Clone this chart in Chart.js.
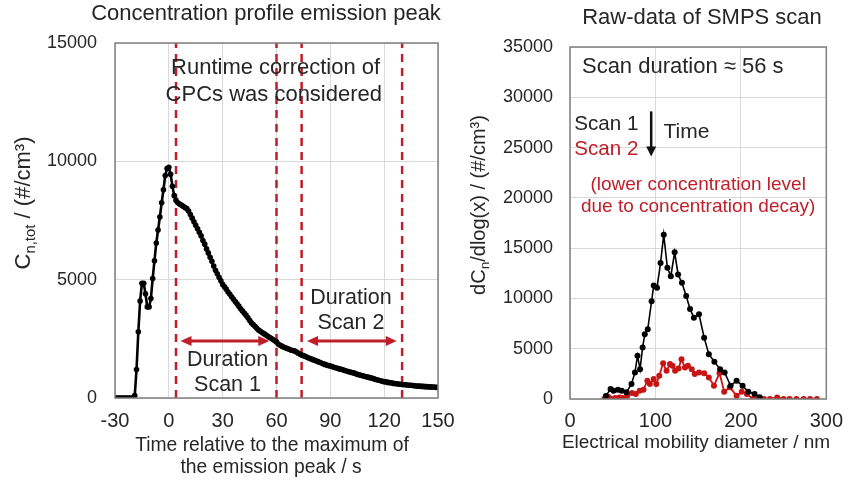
<!DOCTYPE html>
<html>
<head>
<meta charset="utf-8">
<script src="https://cdn.jsdelivr.net/npm/chart.js@4.4.1/dist/chart.umd.min.js"></script>
<style>
  body { margin: 0; background: #fff; width: 853px; height: 480px; overflow: hidden; position: relative; }
  canvas { position: absolute; top: 0; }
  #left { left: 0; }
  #right { left: 470px; }
</style>
</head>
<body>
<canvas id="left" width="470" height="480"></canvas>
<canvas id="right" width="383" height="480"></canvas>
<script>
// left chart: concentration profile, one value per second from -30 s
var profileStart = -30;
var profileStep = 1;
var profileConc = [
  0, 0, 0, 0, 0, 0, 0, 0, 0, 0, 0,
  100, 1200, 2800, 4100, 4850, 4850, 4400, 3850, 3850, 4200,
  5050, 5800, 6550, 7100, 7650, 8250, 8800, 9400, 9700, 9750,
  9450, 8950, 8550, 8350, 8250, 8200, 8150, 8100, 8050, 8000,
  7900, 7750, 7600, 7450, 7300, 7150, 7000, 6850, 6650, 6500,
  6300, 6130, 5950, 5780, 5580, 5400, 5250, 5100, 4950, 4800,
  4700, 4600, 4480, 4380, 4280, 4180, 4080, 3980, 3880, 3770,
  3680, 3590, 3500, 3400, 3280, 3180, 3100, 3030, 2950, 2870,
  2820, 2770, 2720, 2670, 2620, 2570, 2520, 2470, 2420, 2370,
  2280, 2230, 2190, 2150, 2120, 2090, 2060, 2030, 2010, 1990,
  1950, 1900, 1860, 1820, 1790, 1760, 1720, 1690, 1660, 1630,
  1600, 1570, 1540, 1510, 1480, 1450, 1420, 1390, 1370, 1350,
  1330, 1300, 1280, 1260, 1230, 1210, 1190, 1160, 1140, 1120,
  1100, 1080, 1060, 1030, 1000, 980, 960, 940, 920, 900,
  880, 860, 840, 820, 790, 770, 750, 730, 710, 690,
  680, 660, 650, 640, 620, 610, 600, 590, 580, 570,
  560, 560, 550, 540, 540, 530, 520, 510, 500, 500,
  490, 490, 480, 480, 470, 470, 460, 460, 450, 450
];
var timeTicks = [-30, 0, 30, 60, 90, 120, 150];
var concTicks = [0, 5000, 10000, 15000];
var scanMarks = [4, 60, 74, 130];        // start/end of scan 1 and scan 2
var scanArrows = [[6.5, 56], [77, 127]];
var arrowLevel = 2410;

// right chart: SMPS raw data
var diamScan1 = [42, 47.5, 51, 56, 60.5, 66, 72, 76, 79, 82, 85, 87.5, 91, 95.5, 98, 101.8, 106, 109.7,
  114, 118, 122.5, 126.5, 131, 136, 140.5, 145, 151, 157, 162.5, 169, 175.7, 181, 188, 195, 202, 208.7, 216, 222];
var dnScan1 = [300, 990, 820, 920, 820, 660, 1490, 2640, 4290, 2970, 5120, 6440, 6930, 9730, 11290, 11060, 13530, 16340,
  13040, 12210, 14590, 12380, 11550, 10230, 8950, 8090, 8420, 6100, 4460, 3700, 2970, 2640, 1320, 1810, 1320, 720, 500, 170];
var diamScan2 = [40, 41.5, 45, 49, 53, 58, 62, 67, 72.5, 77, 81.5, 86, 90.5, 93.5, 98, 101, 104.5, 109, 113, 117, 120,
  123, 127, 130.5, 134.5, 138, 142.5, 146, 151, 157, 162.5, 168.5, 175, 180.5, 187, 195, 201, 207, 214, 220, 227,
  234, 242.5, 250, 257, 265, 273.5, 281, 289];
var dnScan2 = [0, 0, 200, 0, 100, 160, 100, 330, 590, 500, 830, 920, 1820, 1490, 1980, 1490, 2310, 3560, 2800, 3470, 3300,
  2800, 3040, 3960, 3130, 3300, 2970, 2480, 2640, 2570, 2150, 1320, 2570, 720, 1160, 330, 720, 500, 0, 0, 0,
  0, 160, 0, 0, 0, 0, 0, 0];
var diamTicks = [0, 100, 200, 300];
var dnTicks = [0, 5000, 10000, 15000, 20000, 25000, 30000, 35000];

var FONT = '"Liberation Sans", Arial, sans-serif';
var RED = 'rgb(192, 30, 40)';
var TXT = '#262626';
var GRID = '#d9d9d9';
Chart.defaults.font.family = FONT;
Chart.defaults.color = TXT;

var profilePoints = profileConc.map(function(v, i) { return { x: profileStart + i * profileStep, y: v }; });
var scan1Points = diamScan1.map(function(d, i) { return { x: d, y: dnScan1[i] }; });
var scan2Points = diamScan2.map(function(d, i) { return { x: d, y: dnScan2[i] }; });

function plain(v) { return String(v); }

function text(ctx, str, x, y, size, color, align) {
  ctx.font = size + 'px ' + FONT;
  ctx.fillStyle = color || TXT;
  ctx.textAlign = align || 'center';
  ctx.textBaseline = 'middle';
  ctx.fillText(str, x, y);
}

// rotated axis title with subscripts
function richText(ctx, parts, cx, cy, size) {
  var w = 0;
  parts.forEach(function(p) {
    ctx.font = (p.sub ? size * 0.68 : size) + 'px ' + FONT;
    p.w = ctx.measureText(p.t).width;
    w += p.w;
  });
  ctx.save();
  ctx.translate(cx, cy);
  ctx.rotate(-Math.PI / 2);
  ctx.textAlign = 'left';
  ctx.textBaseline = 'middle';
  ctx.fillStyle = TXT;
  var x = -w / 2;
  parts.forEach(function(p) {
    ctx.font = (p.sub ? size * 0.68 : size) + 'px ' + FONT;
    ctx.fillText(p.t, x, p.sub ? size * 0.32 : 0);
    x += p.w;
  });
  ctx.restore();
}

function arrowHead(ctx, x, y, dx, dy, len, half) {
  ctx.beginPath();
  ctx.moveTo(x, y);
  ctx.lineTo(x - dx * len - dy * half, y - dy * len + dx * half);
  ctx.lineTo(x - dx * len + dy * half, y - dy * len - dx * half);
  ctx.closePath();
  ctx.fill();
}

function frame(ctx, a) {
  ctx.save();
  ctx.strokeStyle = '#7f7f7f';
  ctx.lineWidth = 1.5;
  ctx.strokeRect(a.left, a.top, a.right - a.left, a.bottom - a.top);
  ctx.restore();
}

var leftDeco = {
  id: 'leftDeco',
  afterDraw: function(chart) {
    var ctx = chart.ctx, xs = chart.scales.x, ys = chart.scales.y;
    frame(ctx, chart.chartArea);
    ctx.save();
    // duration arrows
    ctx.strokeStyle = RED;
    ctx.fillStyle = RED;
    ctx.lineWidth = 3;
    var ay = ys.getPixelForValue(arrowLevel);
    scanArrows.forEach(function(r) {
      var x1 = xs.getPixelForValue(r[0]), x2 = xs.getPixelForValue(r[1]);
      ctx.beginPath();
      ctx.moveTo(x1 + 6, ay);
      ctx.lineTo(x2 - 6, ay);
      ctx.stroke();
      arrowHead(ctx, x1, ay, -1, 0, 11, 5);
      arrowHead(ctx, x2, ay, 1, 0, 11, 5);
    });
    text(ctx, 'Runtime correction of', xs.getPixelForValue(59.5), ys.getPixelForValue(13940), 22);
    text(ctx, 'CPCs was considered', xs.getPixelForValue(58.5), ys.getPixelForValue(12800), 22);
    text(ctx, 'Duration', xs.getPixelForValue(32.7), ys.getPixelForValue(1605), 21.5);
    text(ctx, 'Scan 1', xs.getPixelForValue(32.7), ys.getPixelForValue(550), 21.5);
    text(ctx, 'Duration', xs.getPixelForValue(101.5), ys.getPixelForValue(4210), 21.5);
    text(ctx, 'Scan 2', xs.getPixelForValue(101.5), ys.getPixelForValue(3170), 21.5);
    // titles
    text(ctx, 'Concentration profile emission peak', 266, 14, 22);
    text(ctx, 'Time relative to the maximum of', 272, 446, 19.3);
    text(ctx, 'the emission peak / s', 271, 468, 19.3);
    richText(ctx, [{ t: 'C' }, { t: 'n,tot', sub: true }, { t: ' / (#/cm³)' }], 24, 203, 22);
    ctx.restore();
  }
};

var rightDeco = {
  id: 'rightDeco',
  afterDraw: function(chart) {
    var ctx = chart.ctx, xs = chart.scales.x, ys = chart.scales.y;
    frame(ctx, chart.chartArea);
    ctx.save();
    text(ctx, 'Scan duration ≈ 56 s', xs.getPixelForValue(14), ys.getPixelForValue(33000), 22, TXT, 'left');
    text(ctx, 'Scan 1', xs.getPixelForValue(5), ys.getPixelForValue(27300), 20.6, TXT, 'left');
    text(ctx, 'Scan 2', xs.getPixelForValue(5), ys.getPixelForValue(24800), 20.6, RED, 'left');
    text(ctx, 'Time', xs.getPixelForValue(109.5), ys.getPixelForValue(26500), 21, TXT, 'left');
    var axp = xs.getPixelForValue(95), y1 = ys.getPixelForValue(28600), y2 = ys.getPixelForValue(24100);
    ctx.strokeStyle = '#111';
    ctx.fillStyle = '#111';
    ctx.lineWidth = 2.5;
    ctx.beginPath();
    ctx.moveTo(axp, y1);
    ctx.lineTo(axp, y2 - 8);
    ctx.stroke();
    arrowHead(ctx, axp, y2, 0, 1, 10, 5);
    text(ctx, '(lower concentration level', xs.getPixelForValue(150), ys.getPixelForValue(21300), 19, RED);
    text(ctx, 'due to concentration decay)', xs.getPixelForValue(150), ys.getPixelForValue(19100), 19, RED);
    text(ctx, 'Raw-data of SMPS scan', 232, 18, 22);
    text(ctx, 'Electrical mobility diameter / nm', 226, 443, 19);
    richText(ctx, [{ t: 'dC' }, { t: 'n', sub: true }, { t: '/dlog(x) / (#/cm³)' }], 9, 205, 20);
    ctx.restore();
  }
};

var scanLineSets = scanMarks.map(function(m) {
  return {
    data: [{ x: m, y: 0 }, { x: m, y: 15000 }],
    borderColor: RED, borderWidth: 2.5, borderDash: [8, 6],
    pointRadius: 0, order: 2
  };
});

new Chart(document.getElementById('left'), {
  type: 'line',
  data: {
    datasets: [{
      data: profilePoints,
      borderColor: '#000', backgroundColor: '#000',
      borderWidth: 2.6, pointRadius: 2.8, pointBorderWidth: 0,
      tension: 0, order: 1
    }].concat(scanLineSets)
  },
  options: {
    responsive: false,
    animation: false,
    layout: { padding: { top: 43, right: 32, left: 0, bottom: 0 } },
    plugins: { legend: { display: false }, tooltip: { enabled: false } },
    scales: {
      x: {
        type: 'linear', min: -30, max: 150,
        afterBuildTicks: function(s) { s.ticks = timeTicks.map(function(v) { return { value: v }; }); },
        ticks: { font: { size: 20 }, color: TXT, padding: 11, callback: plain },
        grid: { color: GRID, drawTicks: false },
        border: { display: false },
        afterFit: function(s) { s.height = 82; }
      },
      y: {
        min: 0, max: 15000,
        afterBuildTicks: function(s) { s.ticks = concTicks.map(function(v) { return { value: v }; }); },
        ticks: { font: { size: 18 }, color: TXT, padding: 18, callback: plain },
        grid: { color: GRID, drawTicks: false },
        border: { display: false },
        afterFit: function(s) { s.width = 115; }
      }
    }
  },
  plugins: [leftDeco]
});

new Chart(document.getElementById('right'), {
  type: 'line',
  data: {
    datasets: [{
      data: scan2Points,
      borderColor: 'rgb(200, 20, 20)', backgroundColor: 'rgb(200, 20, 20)',
      borderWidth: 1.8, pointRadius: 3, pointBorderWidth: 0, tension: 0, order: 2
    }, {
      data: scan1Points,
      borderColor: '#000', backgroundColor: '#000',
      borderWidth: 1.6, pointRadius: 3, pointBorderWidth: 0, tension: 0, order: 1
    }]
  },
  options: {
    responsive: false,
    animation: false,
    layout: { padding: { top: 47, right: 17, left: 0, bottom: 0 } },
    plugins: { legend: { display: false }, tooltip: { enabled: false } },
    scales: {
      x: {
        type: 'linear', min: 0, max: 300,
        afterBuildTicks: function(s) { s.ticks = diamTicks.map(function(v) { return { value: v }; }); },
        ticks: { font: { size: 20 }, color: TXT, padding: 10, callback: plain },
        grid: { color: GRID, drawTicks: false },
        border: { display: false },
        afterFit: function(s) { s.height = 81; }
      },
      y: {
        min: 0, max: 35000,
        afterBuildTicks: function(s) { s.ticks = dnTicks.map(function(v) { return { value: v }; }); },
        ticks: { font: { size: 18 }, color: TXT, padding: 17, callback: plain },
        grid: { color: GRID, drawTicks: false },
        border: { display: false },
        afterFit: function(s) { s.width = 100; }
      }
    }
  },
  plugins: [rightDeco]
});
</script>
</body>
</html>
